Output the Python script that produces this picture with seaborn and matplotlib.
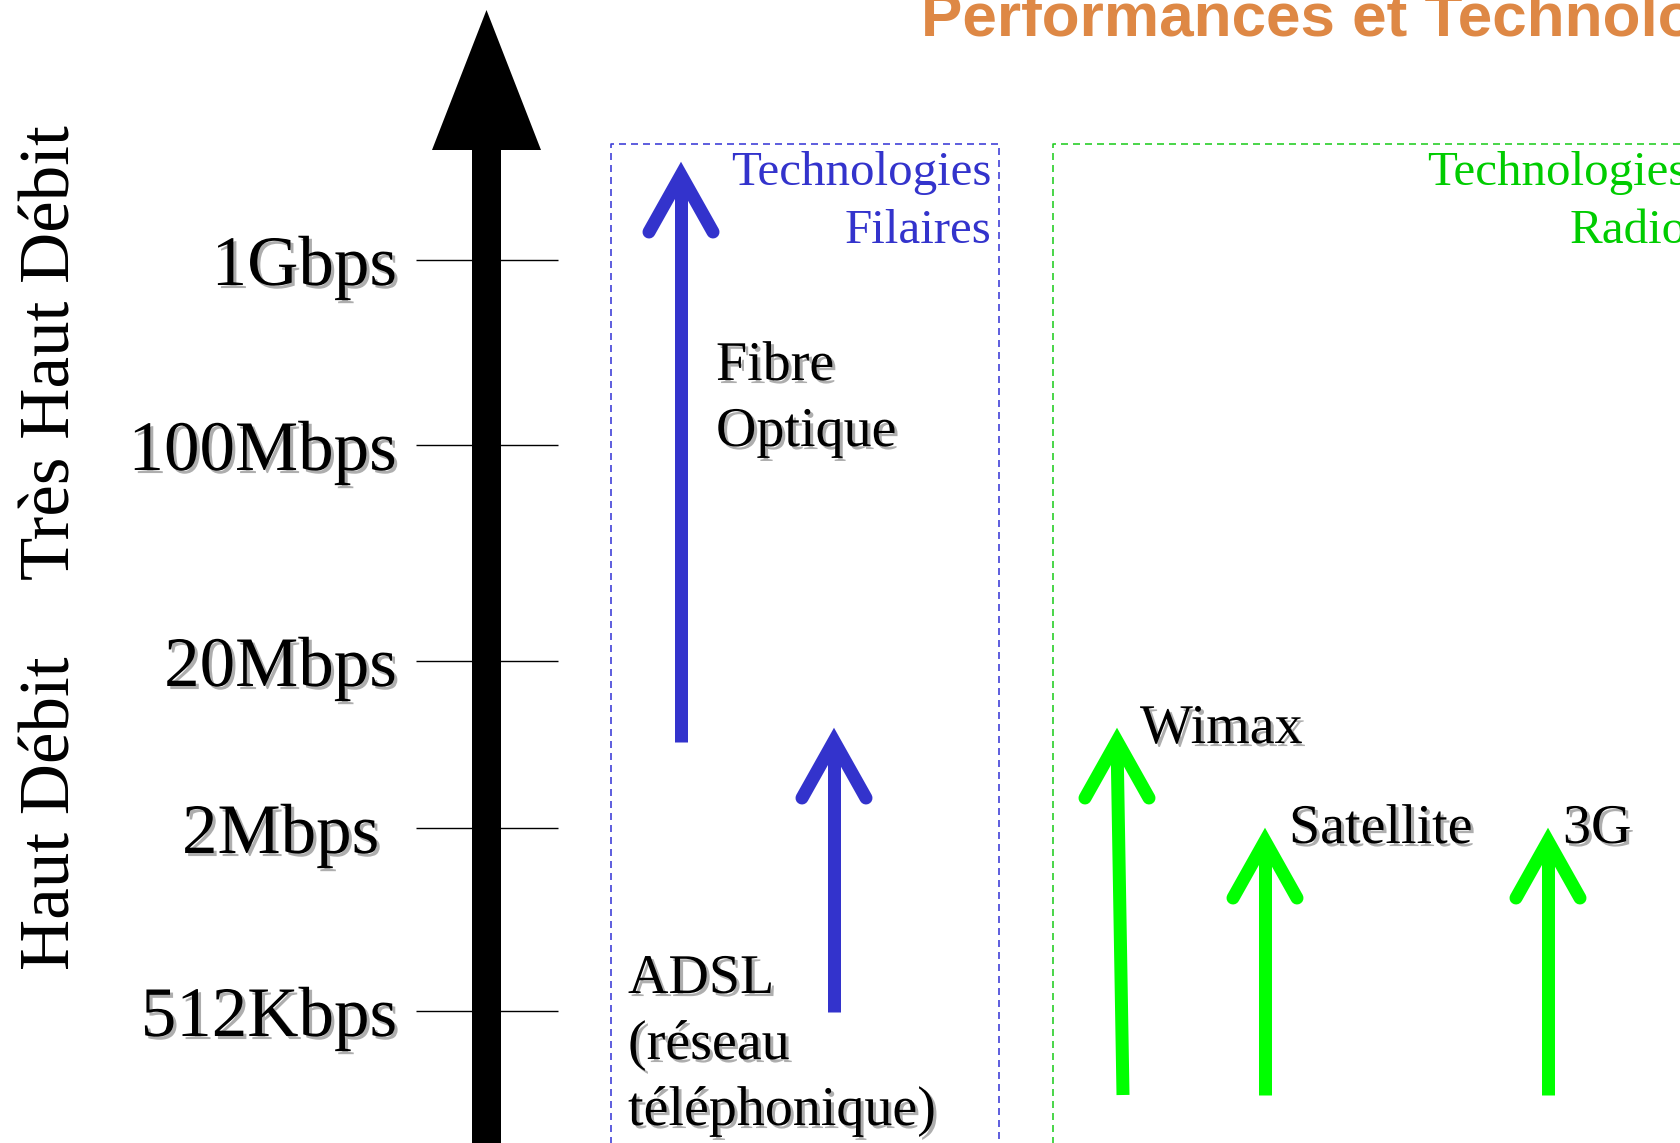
import pandas as pd
import matplotlib
matplotlib.use("Agg")
import matplotlib.pyplot as plt
import matplotlib.patheffects as pe
import seaborn as sns

# speed levels on the big vertical axis (schematic position, px from top)
speed_levels = ["512Kbps", "2Mbps ", "20Mbps", "100Mbps", "1Gbps"]
level_y = [1011, 828, 661, 445, 260]

# range labels on the left
range_labels = ["Très Haut Débit", "Haut Débit"]
range_y = [353, 813]

# technologies: arrow from start to end
tech_names = ["Fibre\nOptique", "ADSL\n(réseau\ntéléphonique)", "Wimax", "Satellite", "3G"]
tech_group = ["Filaires", "Filaires", "Radio", "Radio", "Radio"]
tech_x0 = [681, 834, 1123, 1265, 1548]
tech_x1 = [681, 834, 1117, 1265, 1548]
tech_y0 = [742, 1012, 1095, 1095, 1095]
tech_y1 = [162, 728, 728, 828, 828]

# where each technology label sits (left x, first baseline)
label_x = [716, 628, 1140, 1289, 1563]
label_y = [380, 993, 743, 843, 843]

group_names = ["Filaires", "Radio"]
group_titles = ["Technologies\nFilaires", "Technologies\nRadio"]
group_colors = {"Filaires": "#3333CC", "Radio": "#00FF00"}
group_text_colors = {"Filaires": "#3333CC", "Radio": "#00CC00"}
group_box_colors = {"Filaires": "#3B3BD6", "Radio": "#22CC22"}

PT = 72 / 100  # points per pixel

sns.set_theme(style="white")
plt.rcParams["font.family"] = ["Liberation Serif", "DejaVu Serif"]
plt.rcParams["lines.scale_dashes"] = False

fig = plt.figure(figsize=(16.8, 11.43), dpi=100)
ax = fig.add_axes([0, 0, 1, 1])
ax.set_xlim(0, 1680)
ax.set_ylim(1143, 0)
ax.axis("off")

shadow = [pe.withSimplePatchShadow(offset=(2.2, -2.2), shadow_rgbFace="#9a9a9a", alpha=0.8)]

# title (clipped by the figure edge like the slide crop)
ax.text(921, 36, "Performances et Technologies", family="Liberation Sans", fontweight="bold",
        fontsize=62 * PT, color="#DE8845", ha="left", va="baseline", clip_on=False)

# main black axis arrow
ax.fill_between([472, 501], 150, 1160, color="black", lw=0)
ax.fill([432, 541, 486.5], [150, 150, 10], color="black", lw=0)

# level ticks + labels
ax.hlines(level_y, 416, 558, color="black", lw=1.4 * PT)
for lab, y in zip(speed_levels, level_y):
    ax.text(397, y + 25, lab, fontsize=71 * PT, ha="right", va="baseline",
            color="black", path_effects=shadow)

for lab, y in zip(range_labels, range_y):
    ax.text(52, y, lab, fontsize=71 * PT, rotation=90, ha="center", va="center", color="black")

# dashed group boxes
dash = (0, (7 * PT, 5 * PT))
bx0, bx1, by0 = 611, 999, 144
ax.plot([bx0, bx0, bx1, bx1], [1160, by0, by0, 1160], color=group_box_colors["Filaires"],
        lw=1.6 * PT, ls=dash)
gx0 = 1053
ax.plot([gx0, gx0, 1700], [1160, by0, by0], color=group_box_colors["Radio"],
        lw=1.6 * PT, ls=dash)

# group titles
for g, t, xr in zip(group_names, group_titles, [991, 1687]):
    for i, line in enumerate(t.split("\n")):
        ax.text(xr, 185 + 58 * i, line, fontsize=49 * PT, ha="right", va="baseline",
                color=group_text_colors[g], clip_on=False)

# technology arrow shafts via seaborn
head_back = 13   # vertex offset below apex
head_len = 70
head_half = 32
rows = []
for n, g, x0, x1, y0, y1 in zip(tech_names, tech_group, tech_x0, tech_x1, tech_y0, tech_y1):
    rows.append({"tech": n, "group": g, "x": x0, "y": y0})
    rows.append({"tech": n, "group": g, "x": x1, "y": y1 + head_back})
df = pd.DataFrame(rows)
sns.lineplot(data=df, x="x", y="y", hue="group", units="tech", estimator=None, sort=False,
             palette=group_colors, lw=13 * PT, solid_capstyle="butt", legend=False, ax=ax)

# open arrow heads
for g, x1, y1 in zip(tech_group, tech_x1, tech_y1):
    vy = y1 + head_back
    ax.plot([x1 - head_half, x1, x1 + head_half], [y1 + head_len, vy, y1 + head_len],
            color=group_colors[g], lw=13 * PT, solid_joinstyle="miter", solid_capstyle="round")

# technology labels
for n, lx, ly in zip(tech_names, label_x, label_y):
    for i, line in enumerate(n.split("\n")):
        ax.text(lx, ly + 66 * i, line, fontsize=56 * PT, ha="left", va="baseline",
                color="black", path_effects=shadow)

fig.savefig("out.png", dpi=100, facecolor="white")
